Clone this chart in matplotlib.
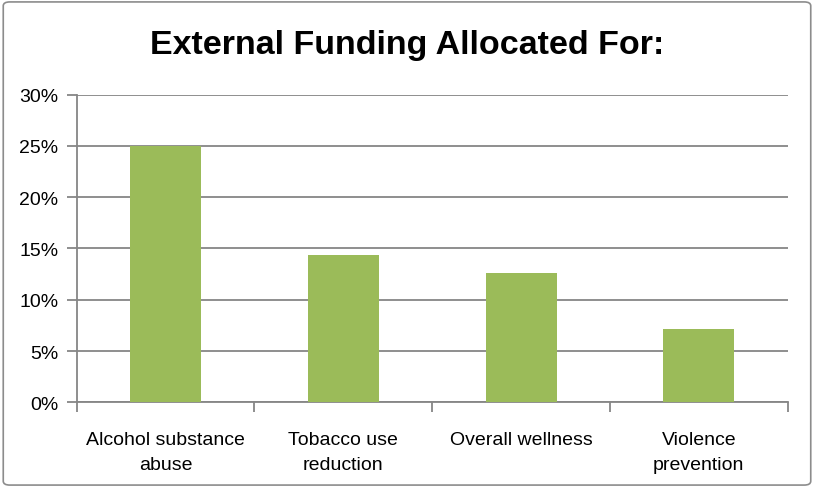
import matplotlib.pyplot as plt
from matplotlib.patches import FancyBboxPatch
from matplotlib.ticker import PercentFormatter

categories = ["Alcohol substance\nabuse", "Tobacco use\nreduction", "Overall wellness", "Violence\nprevention"]
shares = [25.0, 14.4, 12.6, 7.1]
y_ticks = [0, 5, 10, 15, 20, 25, 30]

bar_color = "#9BBB59"
axis_color = "#868686"

plt.rcParams["font.family"] = ["Liberation Sans", "DejaVu Sans"]

fig = plt.figure(figsize=(8.14, 4.89), dpi=100)
ax = fig.add_axes([0.0942, 0.1753, 0.8735, 0.629])

x = list(range(len(categories)))
ax.bar(x, shares, width=0.4, color=bar_color, zorder=3)

ax.set_xlim(-0.5, len(categories) - 0.5)
ax.set_ylim(0, 30)
ax.set_yticks(y_ticks)
ax.yaxis.set_major_formatter(PercentFormatter(decimals=0))
ax.grid(axis="y", color=axis_color, linewidth=1.3, zorder=0)

# category labels sit at centres, tick marks at the boundaries between them
ax.set_xticks(x)
ax.set_xticklabels(categories, fontsize=14, linespacing=1.6)
ax.tick_params(axis="x", length=0, pad=21)
ax.set_xticks([i - 0.5 for i in range(len(categories) + 1)], minor=True)
ax.tick_params(axis="x", which="minor", length=7, width=1.3, color=axis_color, direction="out")
ax.tick_params(axis="y", length=7, width=1.3, color=axis_color, labelsize=14, pad=6)

for side in ["top", "right"]:
    ax.spines[side].set_visible(False)
for side in ["left", "bottom"]:
    ax.spines[side].set_color(axis_color)
    ax.spines[side].set_linewidth(1.3)

fig.text(0.5, 0.907, "External Funding Allocated For:", ha="center", va="center",
         fontsize=24.5, fontweight="bold")

border = FancyBboxPatch((0.004, 0.006), 0.992, 0.988, boxstyle="round,pad=0,rounding_size=0.008",
                        transform=fig.transFigure, facecolor="none", edgecolor="#8C8C8C", linewidth=1.2)
fig.patches.append(border)

fig.savefig("out.png", dpi=100)
